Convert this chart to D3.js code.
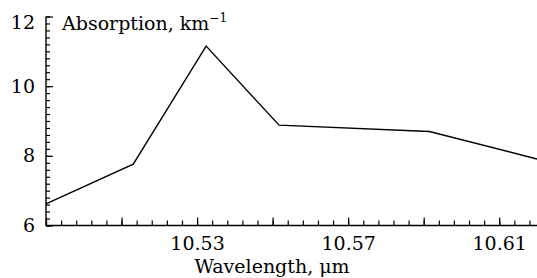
<!DOCTYPE html>
<html>
<head>
<meta charset="utf-8">
<script src="https://cdn.jsdelivr.net/npm/d3@7"></script>
<style>
  body { margin: 0; background: #fff; }
</style>
</head>
<body>
<script>
// data
const wavelengths = [10.49, 10.5131, 10.5324, 10.5517, 10.5915, 10.62];
const absorption  = [6.62, 7.76, 11.15, 8.88, 8.70, 7.91];

const xLabelTicks = [10.53, 10.57, 10.61];
const yLabelTicks = [6, 8, 10, 12];

let width = 537;
let height = 278;
let x0 = 46, x1 = 537;
let y0 = 225.5, y1 = 16.5;
let fontSize = 19;
let font = "DejaVu Serif";

const x = d3.scaleLinear().domain([10.49, 10.62]).range([x0, x1]);
const y = d3.scaleLinear().domain([6, 12]).range([y0, y1]);

const svg = d3.select("body").append("svg")
  .attr("width", width)
  .attr("height", height)
  .attr("font-family", font);

// tick positions
const xMinor = d3.range(0, 33).map(i => +(10.49 + i * 0.004).toFixed(3));
const xMajor = d3.range(0, 7).map(i => +(10.49 + i * 0.02).toFixed(2));
const yMinor = d3.range(0, 31).map(i => +(6 + i * 0.2).toFixed(1));

// minor ticks
svg.append("g")
  .attr("transform", `translate(0,${y0})`)
  .call(d3.axisBottom(x).tickValues(xMinor).tickSize(-5).tickFormat(""))
  .call(g => g.select(".domain").remove());

svg.append("g")
  .attr("transform", `translate(${x0},0)`)
  .call(d3.axisLeft(y).tickValues(yMinor).tickSize(-4).tickFormat(""))
  .call(g => g.select(".domain").remove());

// major ticks + labels
svg.append("g")
  .attr("transform", `translate(0,${y0})`)
  .call(d3.axisBottom(x).tickValues(xMajor).tickSize(-8).tickPadding(11)
    .tickFormat(d => xLabelTicks.some(v => Math.abs(v - d) < 1e-6) ? d3.format(".2f")(d) : ""))
  .call(g => g.select(".domain").remove())
  .attr("font-family", font)
  .attr("font-size", fontSize);

svg.append("g")
  .attr("transform", `translate(${x0},0)`)
  .call(d3.axisLeft(y).tickValues(yLabelTicks).tickSize(-7).tickPadding(11).tickFormat(d3.format("d")))
  .call(g => g.select(".domain").remove())
  .attr("font-family", font)
  .attr("font-size", fontSize)
  .call(g => g.selectAll(".tick").filter(d => d === 12).select("text").attr("dy", "0.62em"));

svg.selectAll(".tick line").attr("stroke", "#000").attr("stroke-width", 1.2);
svg.selectAll(".tick text").attr("fill", "#000");

// axis lines
svg.append("path")
  .attr("d", `M${x0},${y1}V${y0}H${x1}`)
  .attr("fill", "none")
  .attr("stroke", "#000")
  .attr("stroke-width", 1.4);

// data line
const pts = wavelengths.map((w, i) => [w, absorption[i]]);
svg.append("path")
  .datum(pts)
  .attr("fill", "none")
  .attr("stroke", "#000")
  .attr("stroke-width", 1.4)
  .attr("d", d3.line().x(d => x(d[0])).y(d => y(d[1])));

// titles
const yt = svg.append("text")
  .attr("x", 62)
  .attr("y", 30)
  .attr("font-size", fontSize)
  .text("Absorption, km");
yt.append("tspan")
  .attr("dy", -8)
  .attr("font-size", 12)
  .text("\u22121");

svg.append("text")
  .attr("x", 272)
  .attr("y", 273)
  .attr("text-anchor", "middle")
  .attr("font-size", fontSize)
  .text("Wavelength, \u03bcm");
</script>
</body>
</html>
